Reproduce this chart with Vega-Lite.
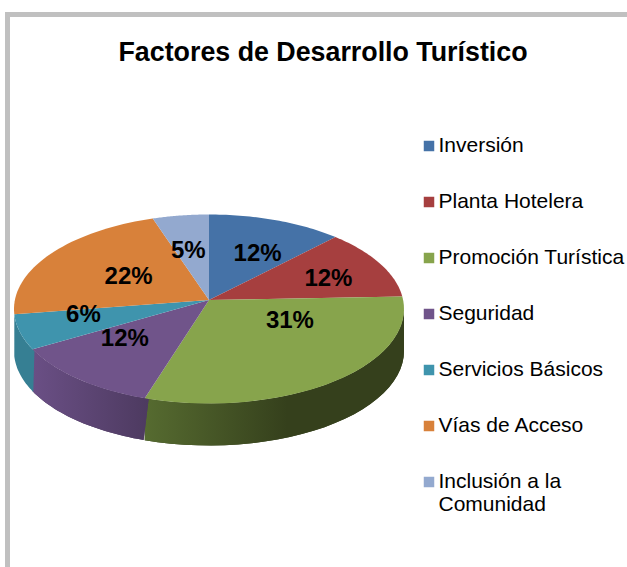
{
"$schema":"https://vega.github.io/schema/vega-lite/v6.json",
"autosize":{"type":"none"},
"padding":{"left":7.5,"top":14.5,"right":0,"bottom":0},
"width":622,"height":555,
"background":"white",
"view":{"stroke":"#c0c0c0","strokeWidth":5,"fill":"white"},
"title":{"text":"Factores de Desarrollo Turístico","font":"Liberation Sans","fontSize":26.8,"fontWeight":"bold","color":"black","anchor":"start","frame":"group","offset":-52,"dx":111},
"data":{"values":[
{"factor":"Inversión","pct":12,"k":1},
{"factor":"Planta Hotelera","pct":12,"k":2},
{"factor":"Promoción Turística","pct":31,"k":3},
{"factor":"Seguridad","pct":12,"k":4},
{"factor":"Servicios Básicos","pct":6,"k":5},
{"factor":"Vías de Acceso","pct":22,"k":6},
{"factor":"Inclusión a la Comunidad","pct":5,"k":7}
]},
"transform":[
{"window":[{"op":"sum","field":"pct","as":"cum"}],"sort":[{"field":"k","order":"ascending"}]},
{"calculate":"(datum.cum-datum.pct)*PI/50","as":"a0"},
{"calculate":"datum.cum*PI/50","as":"a1"},
{"calculate":"(datum.a0+datum.a1)/2","as":"am"}
],
"encoding":{
"x":{"field":"px","type":"quantitative","axis":null,"scale":{"domain":[7.5,629.5],"nice":false,"zero":false}},
"y":{"field":"py","type":"quantitative","axis":null,"scale":{"domain":[569.5,14.5],"nice":false,"zero":false}}
},
"layer":[
{"transform":[
{"filter":"datum.k==3"},
{"calculate":"sequence(0,61)","as":"i"},{"flatten":["i"]},
{"calculate":"datum.a0+(datum.a1-datum.a0)*(datum.i<=30?datum.i/30:(61-datum.i)/30)","as":"t0"},
{"calculate":"clamp(datum.t0-0.07*sin(datum.t0),PI/2,3*PI/2)","as":"t"},
{"calculate":"209+195*sin(datum.t)","as":"px"},
{"calculate":"309-94.5*cos(datum.t)+(datum.i<=30?0:42)","as":"py"}],
"mark":{"type":"line","filled":true,"fill":"#35401c"},
"encoding":{"order":{"field":"i","type":"quantitative"}}},
{"transform":[
{"filter":"datum.k==3"},
{"calculate":"sequence(0,61)","as":"i"},{"flatten":["i"]},
{"calculate":"datum.a0+(datum.a1-datum.a0)*(datum.i<=30?datum.i/30:(61-datum.i)/30)","as":"t0"},
{"calculate":"clamp(datum.t0-0.07*sin(datum.t0),PI/2,3*PI/2)","as":"t"},
{"calculate":"209+195*sin(datum.t)","as":"px"},
{"calculate":"309-94.5*cos(datum.t)+(datum.i<=30?0:42)","as":"py"}],
"mark":{"type":"line","filled":true,"fill":{"gradient":"linear","x1":0,"x2":1,"y1":0,"y2":0,"stops":[{"offset":0,"color":"#566b30"},{"offset":0.55,"color":"#35401c"},{"offset":1,"color":"#35401c"}]}},
"encoding":{"order":{"field":"i","type":"quantitative"}}},
{"transform":[
{"filter":"datum.k==4"},
{"calculate":"sequence(0,61)","as":"i"},{"flatten":["i"]},
{"calculate":"datum.a0-0.02+(datum.a1-datum.a0+0.02)*(datum.i<=30?datum.i/30:(61-datum.i)/30)","as":"t0"},
{"calculate":"clamp(datum.t0-0.07*sin(datum.t0),PI/2,3*PI/2)","as":"t"},
{"calculate":"209+195*sin(datum.t)","as":"px"},
{"calculate":"309-94.5*cos(datum.t)+(datum.i<=30?0:42)","as":"py"}],
"mark":{"type":"line","filled":true,"fill":"#4d3a60"},
"encoding":{"order":{"field":"i","type":"quantitative"}}},
{"transform":[
{"filter":"datum.k==4"},
{"calculate":"sequence(0,61)","as":"i"},{"flatten":["i"]},
{"calculate":"datum.a0-0.02+(datum.a1-datum.a0+0.02)*(datum.i<=30?datum.i/30:(61-datum.i)/30)","as":"t0"},
{"calculate":"clamp(datum.t0-0.07*sin(datum.t0),PI/2,3*PI/2)","as":"t"},
{"calculate":"209+195*sin(datum.t)","as":"px"},
{"calculate":"309-94.5*cos(datum.t)+(datum.i<=30?0:42)","as":"py"}],
"mark":{"type":"line","filled":true,"fill":{"gradient":"linear","x1":0,"x2":1,"y1":0,"y2":0,"stops":[{"offset":0,"color":"#6a4f85"},{"offset":1,"color":"#4d3a60"}]}},
"encoding":{"order":{"field":"i","type":"quantitative"}}},
{"transform":[
{"filter":"datum.k==5"},
{"calculate":"sequence(0,61)","as":"i"},{"flatten":["i"]},
{"calculate":"datum.a0-0.02+(datum.a1-datum.a0+0.02)*(datum.i<=30?datum.i/30:(61-datum.i)/30)","as":"t0"},
{"calculate":"clamp(datum.t0-0.07*sin(datum.t0),PI/2,3*PI/2)","as":"t"},
{"calculate":"209+195*sin(datum.t)","as":"px"},
{"calculate":"309-94.5*cos(datum.t)+(datum.i<=30?0:42)","as":"py"}],
"mark":{"type":"line","filled":true,"fill":"#367f93"},
"encoding":{"order":{"field":"i","type":"quantitative"}}},
{"transform":[
{"calculate":"sequence(0,42)","as":"i"},{"flatten":["i"]},
{"calculate":"datum.a0+(datum.a1-datum.a0)*datum.i/40","as":"t0"},
{"calculate":"datum.t0-0.07*sin(datum.t0)","as":"t"},
{"calculate":"datum.i>40?209:209+195*sin(datum.t)","as":"px"},
{"calculate":"datum.i>40?300:309-94.5*cos(datum.t)","as":"py"}],
"mark":{"type":"line","filled":true,"strokeWidth":0},
"encoding":{
"order":{"field":"i","type":"quantitative"},
"fill":{"field":"factor","type":"nominal","title":null,
"scale":{"domain":["Inversión","Planta Hotelera","Promoción Turística","Seguridad","Servicios Básicos","Vías de Acceso","Inclusión a la Comunidad"],"range":["#4572a7","#a63f3f","#87a44c","#70548a","#3f94ad","#d8813a","#93a9cf"]},
"legend":{"orient":"none","legendX":411,"legendY":121,"symbolType":"square","symbolSize":110,"symbolStrokeWidth":0,"labelFont":"Liberation Sans","labelFontSize":21,"labelColor":"black","rowPadding":34,"labelLimit":230,"labelOffset":-1,"labelExpr":"datum.label=='Inclusión a la Comunidad'?['Inclusión a la','Comunidad']:datum.label"}}}},
{"transform":[
{"filter":"datum.k!=3 && datum.k!=6"},
{"calculate":"209+132*sin(datum.am)","as":"px"},
{"calculate":"300-50*cos(datum.am)","as":"py"},
{"calculate":"datum.pct+'%'","as":"lab"}],
"mark":{"type":"text","font":"Liberation Sans","fontSize":24,"fontWeight":"bold","color":"black"},
"encoding":{"text":{"field":"lab"}}},
{"transform":[
{"filter":"datum.k==3"},
{"calculate":"209+132*sin(datum.am)","as":"px"},
{"calculate":"300-50*cos(datum.am)","as":"py"},
{"calculate":"datum.pct+'%'","as":"lab"}],
"mark":{"type":"text","font":"Liberation Sans","fontSize":24,"fontWeight":"bold","color":"black","dy":-19},
"encoding":{"text":{"field":"lab"}}},
{"transform":[
{"filter":"datum.k==6"},
{"calculate":"209+132*sin(datum.am)","as":"px"},
{"calculate":"300-50*cos(datum.am)","as":"py"},
{"calculate":"datum.pct+'%'","as":"lab"}],
"mark":{"type":"text","font":"Liberation Sans","fontSize":24,"fontWeight":"bold","color":"black","dx":31,"dy":4},
"encoding":{"text":{"field":"lab"}}}
]
}
